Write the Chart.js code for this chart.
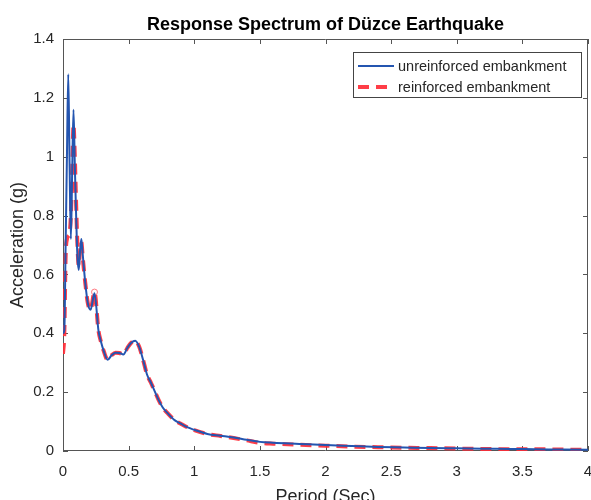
<!DOCTYPE html>
<html>
<head>
<meta charset="utf-8">
<script src="https://cdn.jsdelivr.net/npm/chart.js@4.4.1/dist/chart.umd.min.js"></script>
<style>
  html, body { margin: 0; padding: 0; background: #fff; }
  #wrap { width: 591px; height: 500px; }
</style>
</head>
<body>
<div id="wrap"><canvas id="chart" width="591" height="500"></canvas></div>
<script>
// Response spectrum of the Düzce earthquake: spectral acceleration (g) vs. period (s)
const chartTitle = 'Response Spectrum of Düzce Earthquake';
const xTitle = 'Period (Sec)';
const yTitle = 'Acceleration (g)';
const seriesNames = ['unreinforced embankment', 'reinforced embankment'];

const periods = [
  0, 0.01, 0.02, 0.03, 0.04, 0.05, 0.06, 0.07, 0.08, 0.09, 0.10, 0.11, 0.12, 0.13,
  0.14, 0.15, 0.17, 0.19, 0.21, 0.24, 0.27, 0.29, 0.31, 0.34, 0.37, 0.40, 0.43,
  0.46, 0.49, 0.52, 0.55, 0.58, 0.61, 0.64, 0.67, 0.70, 0.73, 0.76, 0.80, 0.85,
  0.90, 0.95, 1.0, 1.1, 1.2, 1.3, 1.4, 1.5, 1.6, 1.8, 2.0, 2.2, 2.4, 2.6, 2.8,
  3.0, 3.2, 3.4, 3.6, 3.8, 4.0
];

const unreinforced = [
  0.40, 0.41, 0.70, 1.00, 1.28, 0.98, 0.72, 0.95, 1.16, 0.97, 0.80, 0.66, 0.615, 0.68,
  0.72, 0.67, 0.57, 0.50, 0.48, 0.536, 0.41, 0.37, 0.34, 0.31, 0.325, 0.334, 0.333,
  0.328, 0.35, 0.368, 0.375, 0.355, 0.31, 0.26, 0.232, 0.202, 0.172, 0.148, 0.127, 0.105,
  0.092, 0.080, 0.072, 0.058, 0.052, 0.046, 0.038, 0.031, 0.028, 0.024, 0.020, 0.017, 0.014, 0.012, 0.010,
  0.009, 0.008, 0.007, 0.006, 0.005, 0.004
];

const reinforced = [
  0.33, 0.40, 0.66, 0.72, 0.73, 0.74, 0.80, 0.95, 1.11, 1.00, 0.84, 0.70, 0.63, 0.68,
  0.71, 0.66, 0.57, 0.50, 0.48, 0.54, 0.41, 0.37, 0.34, 0.31, 0.325, 0.334, 0.333,
  0.328, 0.35, 0.368, 0.375, 0.355, 0.31, 0.26, 0.232, 0.202, 0.172, 0.148, 0.127, 0.105,
  0.092, 0.080, 0.071, 0.058, 0.051, 0.044, 0.036, 0.028, 0.025, 0.021, 0.018, 0.015, 0.013, 0.011, 0.010,
  0.008, 0.007, 0.006, 0.006, 0.005, 0.004
];

// a single marked sample on the reinforced curve
const markedPeriod = 0.24;

const xTicks = [0, 0.5, 1, 1.5, 2, 2.5, 3, 3.5, 4];
const yTicks = [0, 0.2, 0.4, 0.6, 0.8, 1, 1.2, 1.4];

const FONT = '"Liberation Sans", Arial, Helvetica, sans-serif';
const TEXT = '#262626';
const AXIS = '#555555';
const BLUE = '#2455b0';
const RED = 'rgba(255, 45, 55, 0.92)';

const toXY = (vals) => periods.map((p, i) => ({ x: p, y: vals[i] }));

// box around the plot with inward tick marks on all four sides
const boxPlugin = {
  id: 'boxTicks',
  beforeDatasetsDraw(chart) {
    const { ctx, chartArea: a, scales } = chart;
    const len = 5;
    ctx.save();
    ctx.strokeStyle = AXIS;
    ctx.lineWidth = 1;
    ctx.beginPath();
    ctx.rect(a.left + 0.5, a.top + 0.5, a.right - a.left - 1, a.bottom - a.top - 1);
    scales.x.ticks.forEach(t => {
      const px = Math.round(scales.x.getPixelForValue(t.value)) + 0.5;
      ctx.moveTo(px, a.bottom); ctx.lineTo(px, a.bottom - len);
      ctx.moveTo(px, a.top); ctx.lineTo(px, a.top + len);
    });
    scales.y.ticks.forEach(t => {
      const py = Math.round(scales.y.getPixelForValue(t.value)) + 0.5;
      ctx.moveTo(a.left, py); ctx.lineTo(a.left + len, py);
      ctx.moveTo(a.right, py); ctx.lineTo(a.right - len, py);
    });
    ctx.stroke();
    ctx.restore();
  }
};

// legend box drawn inside the upper-right corner of the plot
const legendPlugin = {
  id: 'innerLegend',
  afterDatasetsDraw(chart) {
    const { ctx, chartArea: a } = chart;
    const boxW = 228, boxH = 45;
    const x0 = a.right - 7 - boxW, y0 = a.top + 13;
    ctx.save();
    ctx.fillStyle = '#ffffff';
    ctx.fillRect(x0, y0, boxW, boxH);
    ctx.strokeStyle = '#444444';
    ctx.lineWidth = 1;
    ctx.strokeRect(x0 + 0.5, y0 + 0.5, boxW, boxH);
    const rows = [y0 + 14, y0 + 35];
    chart.data.datasets.forEach((ds, i) => {
      const y = rows[i];
      ctx.beginPath();
      ctx.strokeStyle = ds.borderColor;
      ctx.lineWidth = ds.borderWidth;
      ctx.setLineDash(ds.borderDash || []);
      ctx.moveTo(x0 + 5, y);
      ctx.lineTo(x0 + 41, y);
      ctx.stroke();
      ctx.setLineDash([]);
      ctx.fillStyle = TEXT;
      ctx.font = '14.5px ' + FONT;
      ctx.textBaseline = 'middle';
      ctx.textAlign = 'left';
      ctx.fillText(ds.label, x0 + 45, y + 0.5);
    });
    ctx.restore();
  }
};

new Chart(document.getElementById('chart'), {
  type: 'line',
  data: {
    datasets: [
      {
        label: seriesNames[0],
        data: toXY(unreinforced),
        borderColor: BLUE,
        borderWidth: 2,
        pointRadius: 0,
        cubicInterpolationMode: 'monotone',
        fill: false
      },
      {
        label: seriesNames[1],
        data: toXY(reinforced),
        borderColor: RED,
        borderWidth: 4,
        borderDash: [11, 7],
        cubicInterpolationMode: 'monotone',
        pointRadius: (c) => (periods[c.dataIndex] === markedPeriod ? 3 : 0),
        pointBorderColor: 'rgba(255, 90, 100, 0.8)',
        pointBorderWidth: 1,
        pointBackgroundColor: 'rgba(255,255,255,0)',
        fill: false
      }
    ]
  },
  options: {
    responsive: false,
    animation: false,
    devicePixelRatio: 1,
    layout: { padding: { left: 0, right: 3, top: 0, bottom: 0 } },
    plugins: {
      legend: { display: false },
      tooltip: { enabled: false },
      title: {
        display: true,
        text: chartTitle,
        fullSize: false,
        color: '#000',
        font: { family: FONT, size: 18, weight: 'bold', lineHeight: 1.2 },
        padding: { top: 14, bottom: 3.4 }
      }
    },
    scales: {
      x: {
        type: 'linear',
        min: 0,
        max: 4,
        afterBuildTicks: (s) => { s.ticks = xTicks.map(v => ({ value: v })); },
        afterFit: (s) => { s.height = 49; s.paddingLeft = 0; s.paddingRight = 0; },
        grid: { display: false, drawTicks: false },
        border: { display: false },
        ticks: {
          padding: 12,
          color: TEXT,
          maxRotation: 0,
          autoSkip: false,
          font: { family: FONT, size: 15 },
          callback: (v) => String(v)
        },
        title: {
          display: true,
          text: xTitle,
          color: TEXT,
          font: { family: FONT, size: 18, lineHeight: 1.2 },
          padding: { top: 0, bottom: -8 }
        }
      },
      y: {
        type: 'linear',
        min: 0,
        max: 1.4,
        afterBuildTicks: (s) => { s.ticks = yTicks.map(v => ({ value: v })); },
        afterFit: (s) => { s.width = 63; s.paddingTop = 0; s.paddingBottom = 0; },
        grid: { display: false, drawTicks: false },
        border: { display: false },
        ticks: {
          padding: 9,
          color: TEXT,
          autoSkip: false,
          font: { family: FONT, size: 15 },
          callback: (v) => String(v)
        },
        title: {
          display: true,
          text: yTitle,
          color: TEXT,
          font: { family: FONT, size: 18, lineHeight: 1.2 },
          padding: { top: 7, bottom: 0 }
        }
      }
    }
  },
  plugins: [boxPlugin, legendPlugin]
});
</script>
</body>
</html>
